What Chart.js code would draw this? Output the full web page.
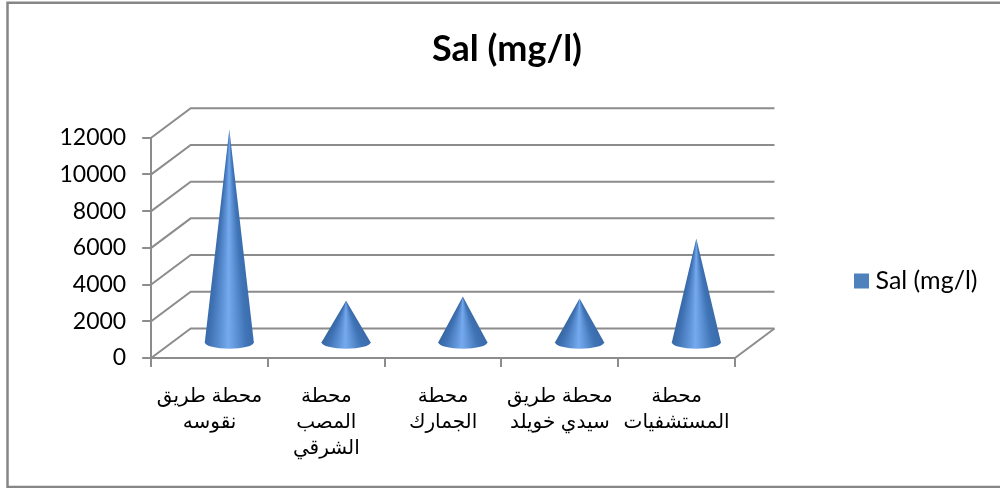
<!DOCTYPE html>
<html>
<head>
<meta charset="utf-8">
<script src="https://cdn.jsdelivr.net/npm/chart.js@4/dist/chart.umd.min.js"></script>
<style>
html, body { margin: 0; padding: 0; background: #fff; }
#wrap { width: 1000px; height: 488px; }
</style>
</head>
<body>
<div id="wrap"><canvas id="myChart" width="1000" height="488"></canvas></div>
<script>
var categories = [
    ["محطة طريق", "نقوسه"],
    ["محطة", "المصب", "الشرقي"],
    ["محطة", "الجمارك"],
    ["محطة طريق", "سيدي خويلد"],
    ["محطة", "المستشفيات"]
];
var seriesName = "Sal (mg/l)";
var salValues = [11650, 2320, 2550, 2440, 5700];

var gridColor = "#8c8c8c";
var depthX = 39.5;
var depthY = 29.5;

// back wall and floor, drawn from the value scale
var wallPlugin = {
    id: "wall",
    beforeDatasetsDraw: function (chart) {
        var ctx = chart.ctx;
        var area = chart.chartArea;
        var yScale = chart.scales.y;
        ctx.save();
        ctx.strokeStyle = gridColor;
        ctx.lineWidth = 2;
        yScale.ticks.forEach(function (tick) {
            var y = yScale.getPixelForValue(tick.value);
            ctx.beginPath();
            ctx.moveTo(area.left, y);
            ctx.lineTo(area.left + depthX, y - depthY);
            ctx.lineTo(area.right + depthX, y - depthY);
            ctx.stroke();
        });
        // right edge of the floor
        ctx.beginPath();
        ctx.moveTo(area.right, area.bottom);
        ctx.lineTo(area.right + depthX, area.bottom - depthY);
        ctx.stroke();
        ctx.restore();
    }
};

// cones instead of the flat bars
var conePlugin = {
    id: "cone",
    beforeDatasetDraw: function (chart, args) {
        var ctx = chart.ctx;
        args.meta.data.forEach(function (bar) {
            var cx = bar.x + depthX / 2;
            var baseY = bar.base - depthY / 2;
            var apexY = bar.y - depthY / 2;
            var rx = bar.width / 2;
            var ry = 6.5;
            var h = baseY - apexY;

            // shading turns around the apex like on a real cone
            var left = Math.atan2(h, -rx);
            var right = Math.atan2(h, rx);
            var start = right - 0.02;
            var span = left - right + 0.04;
            var grad = ctx.createConicGradient(start, cx, apexY);
            var full = Math.PI * 2;
            var stops = [[0, "#3a69a8"], [0.2, "#3f74b6"], [0.42, "#659ade"], [0.52, "#75aaee"], [0.64, "#5f94d8"], [0.85, "#3f72b4"], [1, "#35659f"]];
            stops.forEach(function (s) {
                grad.addColorStop(s[0] * span / full, s[1]);
            });
            grad.addColorStop(Math.min(span / full + 0.001, 1), "#35659f");
            grad.addColorStop(1, "#3a69a8");

            ctx.save();
            ctx.fillStyle = grad;
            ctx.beginPath();
            ctx.moveTo(cx, apexY);
            ctx.lineTo(cx + rx, baseY);
            ctx.ellipse(cx, baseY, rx, ry, 0, 0, Math.PI);
            ctx.closePath();
            ctx.fill();
            ctx.restore();
        });
        return false;
    }
};

// frame around the chart, title and legend moved to their places
var framePlugin = {
    id: "frame",
    afterLayout: function (chart) {
        var legend = chart.legend;
        var h = legend.height;
        legend.left = 850;
        legend.right = legend.left + legend.width;
        legend.top = 258.5;
        legend.bottom = legend.top + h;
        chart.titleBlock.left = 14;
        chart.titleBlock.right = 1000;
    },
    beforeDraw: function (chart) {
        var ctx = chart.ctx;
        ctx.save();
        ctx.strokeStyle = "#868686";
        ctx.lineWidth = 2.5;
        // the right side of the frame is cut off in the picture
        ctx.beginPath();
        ctx.moveTo(1000, 2.7);
        ctx.lineTo(7.5, 2.7);
        ctx.lineTo(7.5, 487);
        ctx.lineTo(1000, 487);
        ctx.stroke();
        ctx.restore();
    }
};

var ctx = document.getElementById("myChart").getContext("2d");
var chart = new Chart(ctx, {
    type: "bar",
    data: {
        labels: categories,
        datasets: [
            {
                label: seriesName,
                data: salValues,
                backgroundColor: "#4f81bd",
                borderColor: "#4f81bd",
                borderWidth: 12,
                barPercentage: 0.42,
                categoryPercentage: 1
            }
        ]
    },
    plugins: [wallPlugin, conePlugin, framePlugin],
    options: {
        responsive: false,
        animation: false,
        layout: {
            padding: { left: 43.5, right: 127.5, top: 24, bottom: 11 }
        },
        plugins: {
            title: {
                display: true,
                text: seriesName,
                color: "#000",
                font: { family: "Lato", size: 36, weight: "bold" },
                padding: { top: 4, bottom: 66.5 }
            },
            legend: {
                position: "right",
                align: "start",
                labels: {
                    color: "#000",
                    boxWidth: 3,
                    boxHeight: 3,
                    padding: 10,
                    font: { family: "Lato", size: 25 }
                }
            },
            tooltip: { enabled: false }
        },
        scales: {
            x: {
                grid: { drawOnChartArea: false, color: gridColor, lineWidth: 2, tickLength: 9 },
                border: { color: gridColor, width: 2 },
                ticks: {
                    color: "#000",
                    autoSkip: false,
                    maxRotation: 0,
                    padding: 16,
                    font: { family: "'Liberation Sans', 'DejaVu Sans'", size: 20, lineHeight: 1.3 }
                }
            },
            y: {
                min: 0,
                max: 12000,
                grid: { drawOnChartArea: false, color: gridColor, lineWidth: 2, tickLength: 9 },
                border: { color: gridColor, width: 2 },
                ticks: {
                    color: "#000",
                    stepSize: 2000,
                    padding: 16,
                    font: { family: "Lato", size: 23 },
                    callback: function (value) {
                        return String(value);
                    }
                }
            }
        }
    }
});
</script>
</body>
</html>
